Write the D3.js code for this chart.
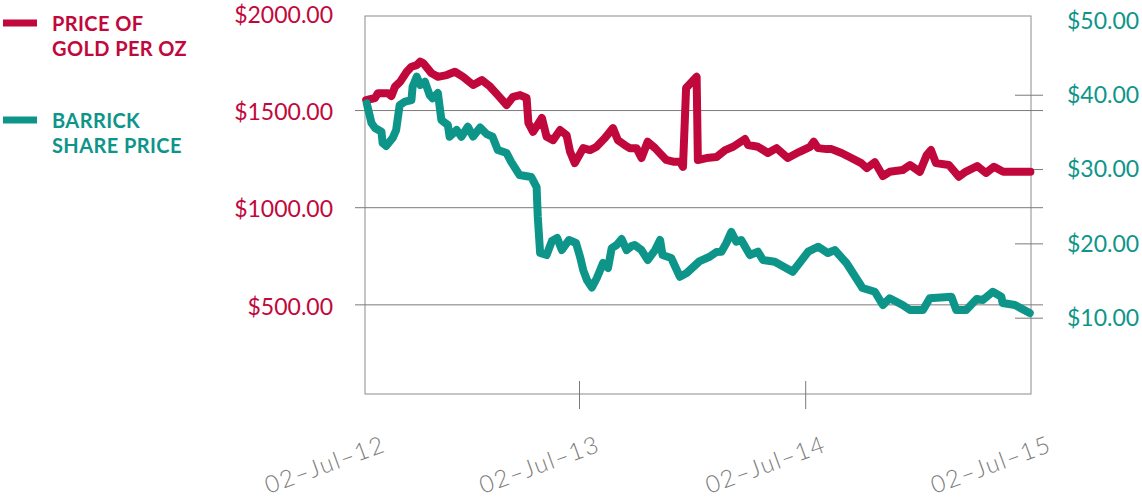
<!DOCTYPE html>
<html>
<head>
<meta charset="utf-8">
<script src="https://cdn.jsdelivr.net/npm/d3@7"></script>
<style>
  body { margin: 0; background: #fff; }
  svg { display: block; font-family: Lato, "Noto Sans", sans-serif; }
</style>
</head>
<body>
<svg id="chart" width="1142" height="502"></svg>
<script>
// gold price per oz (USD)
var goldDates = [
    '2012-07-04','2012-07-19','2012-07-24','2012-08-10','2012-08-16','2012-08-22','2012-08-31',
    '2012-09-11','2012-09-19','2012-09-28','2012-10-04','2012-10-09','2012-10-23','2012-11-03',
    '2012-11-18','2012-12-02','2012-12-16','2013-01-02','2013-01-17','2013-01-31','2013-02-13',
    '2013-02-28','2013-03-11','2013-03-23','2013-04-03','2013-04-06','2013-04-14','2013-04-29',
    '2013-05-07','2013-05-18','2013-05-30','2013-06-10','2013-06-16','2013-06-24','2013-07-08',
    '2013-07-19','2013-07-29','2013-08-12','2013-08-25','2013-09-02','2013-09-13','2013-09-21',
    '2013-10-02','2013-10-10','2013-10-20','2013-11-01','2013-11-19','2013-11-30','2013-12-11',
    '2013-12-16','2013-12-21','2014-01-07','2014-01-09','2014-01-23','2014-02-08','2014-02-22',
    '2014-03-07','2014-03-26','2014-03-31','2014-04-16','2014-05-02','2014-05-16','2014-06-03',
    '2014-06-22','2014-07-09','2014-07-15','2014-07-22','2014-08-05','2014-08-13','2014-08-29',
    '2014-09-14','2014-09-30','2014-10-09','2014-10-22','2014-11-04','2014-11-15','2014-12-06',
    '2014-12-18','2015-01-03','2015-01-14','2015-01-21','2015-01-29','2015-02-19','2015-03-07',
    '2015-03-18','2015-04-06','2015-04-20','2015-05-03','2015-05-18','2015-07-01'
];
var goldPrices = [
    1551,1562,1587,1587,1572,1620,1646,
    1697,1723,1731,1749,1742,1690,1671,
    1680,1697,1671,1629,1654,1620,1577,
    1526,1568,1577,1562,1434,1388,1459,
    1363,1345,1397,1371,1285,1227,1304,
    1294,1310,1356,1407,1345,1320,1304,
    1304,1253,1337,1304,1243,1234,1234,
    1208,1613,1671,1243,1253,1258,1294,
    1311,1351,1320,1311,1279,1304,1253,
    1285,1311,1337,1304,1299,1299,1279,
    1253,1227,1201,1232,1160,1182,1191,
    1217,1182,1268,1294,1227,1217,1157,
    1182,1212,1176,1208,1182,1182
];

// barrick share price (USD)
var barrickDates = [
    '2012-07-05','2012-07-13','2012-07-19','2012-07-30','2012-08-01','2012-08-07','2012-08-18',
    '2012-08-24','2012-08-30','2012-09-08','2012-09-19','2012-09-21','2012-09-28','2012-10-04',
    '2012-10-12','2012-10-20','2012-10-25','2012-11-03','2012-11-09','2012-11-20','2012-11-23',
    '2012-12-05','2012-12-13','2012-12-24','2013-01-02','2013-01-14','2013-01-25','2013-02-04',
    '2013-02-13','2013-02-28','2013-03-08','2013-03-22','2013-04-11','2013-04-20','2013-04-22',
    '2013-04-26','2013-05-07','2013-05-16','2013-05-25','2013-06-02','2013-06-14','2013-06-26',
    '2013-07-03','2013-07-08','2013-07-14','2013-07-22','2013-07-30','2013-08-09','2013-08-17',
    '2013-08-23','2013-08-31','2013-09-08','2013-09-16','2013-09-24','2013-09-29','2013-10-10',
    '2013-10-20','2013-11-01','2013-11-09','2013-11-13','2013-11-27','2013-12-11','2013-12-22',
    '2014-01-12','2014-01-28','2014-02-08','2014-02-16','2014-02-24','2014-03-04','2014-03-12',
    '2014-03-20','2014-04-03','2014-04-16','2014-04-24','2014-05-13','2014-06-11','2014-07-06',
    '2014-07-22','2014-08-07','2014-08-18','2014-09-06','2014-10-02','2014-10-22','2014-11-04',
    '2014-11-15','2014-12-06','2014-12-18','2015-01-08','2015-01-19','2015-02-23','2015-03-03',
    '2015-03-19','2015-04-05','2015-04-15','2015-05-01','2015-05-15','2015-05-17','2015-06-06',
    '2015-06-30'
];
var barrickPrices = [
    38.84,36.19,35.52,35.02,33.50,33.10,34.17,
    35.25,38.61,39.06,39.28,41.07,42.42,41.30,
    41.75,39.96,39.51,40.23,36.59,35.92,34.35,
    35.25,34.35,35.69,34.37,35.58,34.71,34.35,
    32.56,32.15,30.94,29.19,28.92,27.58,23.58,
    18.70,18.43,20.31,20.72,19.10,20.45,20.05,
    18.16,16.41,15.07,14.06,15.34,17.36,16.68,
    19.37,19.78,20.58,19.10,19.64,19.78,19.10,
    17.76,19.10,20.45,18.43,18.03,15.51,16.01,
    17.62,18.20,18.83,18.88,20.05,21.53,20.22,
    20.45,18.43,18.88,17.76,17.53,16.18,18.88,
    19.55,18.70,19.10,17.36,13.99,13.49,11.70,
    12.61,11.70,11.03,11.03,12.61,12.82,11.03,
    11.03,12.51,12.38,13.49,12.82,11.97,11.70,
    10.63
];

var goldTicks = [500, 1000, 1500, 2000];
var barrickTicks = [10, 20, 30, 40, 50];
var dateTicks = ['2012-07-02', '2013-07-02', '2014-07-02', '2015-07-02'];

var GOLD = '#c1083c',
    TEAL = '#0e958a',
    GRID = '#7a7a7a';

var box = {left: 365, right: 1031, top: 16, bottom: 394};

var parse = d3.timeParse('%Y-%m-%d');
var fmtDate = d3.timeFormat('%d\u2013%b\u2013%y');
var fmtMoney = function (d) { return '$' + d3.format('.2f')(d); };

var svg = d3.select('#chart');

var xScale = d3.scaleTime()
    .domain(dateTicks.map(parse))
    .range([box.left, 579.5, 805.7, box.right]);
var yGold = d3.scaleLinear().domain([0, 2000]).range([401.5, 12.9]);
var yBarrick = d3.scaleLinear().domain([0, 50]).range([392, 20.4]);

// plot frame
svg.append('rect')
    .attr('x', box.left).attr('y', box.top)
    .attr('width', box.right - box.left).attr('height', box.bottom - box.top)
    .attr('fill', 'none').attr('stroke', '#8c8c8c').attr('stroke-width', 1);

// left axis with gridlines
var goldAxis = d3.axisLeft(yGold)
    .tickValues(goldTicks)
    .tickSize(-(1043 - 355))
    .tickPadding(22)
    .tickFormat(fmtMoney);
var gAxis = svg.append('g')
    .attr('transform', 'translate(355,0)')
    .call(goldAxis);
gAxis.select('.domain').remove();
gAxis.selectAll('.tick line')
    .attr('stroke', GRID)
    .attr('opacity', function (d) { return d === 2000 ? 0 : 1; });
gAxis.selectAll('.tick text')
    .attr('fill', GOLD)
    .attr('font-size', 23)
    .attr('font-family', 'Lato, "Noto Sans", sans-serif')
    .attr('dy', '0.42em');

// right axis
var barrickAxis = d3.axisRight(yBarrick)
    .tickValues(barrickTicks)
    .tickSize(28)
    .tickPadding(24)
    .tickFormat(fmtMoney);
var bAxis = svg.append('g')
    .attr('transform', 'translate(1015,0)')
    .call(barrickAxis);
bAxis.select('.domain').remove();
bAxis.selectAll('.tick line')
    .attr('stroke', GRID)
    .attr('opacity', function (d) { return d === 50 ? 0 : 1; });
bAxis.selectAll('.tick text')
    .attr('fill', TEAL)
    .attr('font-size', 23)
    .attr('font-family', 'Lato, "Noto Sans", sans-serif')
    .attr('dy', '0.34em');

// bottom ticks crossing the frame
var inner = dateTicks.slice(1, 3).map(parse);
svg.append('g').selectAll('line')
    .data(inner)
    .enter().append('line')
    .attr('x1', function (d) { return xScale(d); })
    .attr('x2', function (d) { return xScale(d); })
    .attr('y1', box.bottom - 13)
    .attr('y2', box.bottom + 15)
    .attr('stroke', GRID);

// rotated date labels
svg.append('g').selectAll('text')
    .data(dateTicks.map(parse))
    .enter().append('text')
    .attr('transform', function (d) {
        return 'translate(' + (xScale(d) + 22) + ',451) rotate(-20)';
    })
    .attr('text-anchor', 'end')
    .attr('font-size', 24)
    .attr('font-weight', 300)
    .attr('letter-spacing', 1.6)
    .attr('fill', '#7c7c7c')
    .text(fmtDate);

// series
function series(dates, values, y) {
    return dates.map(function (d, i) { return {date: parse(d), value: values[i], y: y}; });
}
var line = d3.line()
    .x(function (d) { return xScale(d.date); })
    .y(function (d) { return d.y(d.value); });

svg.append('path')
    .datum(series(goldDates, goldPrices, yGold))
    .attr('d', line)
    .attr('fill', 'none')
    .attr('stroke', GOLD)
    .attr('stroke-width', 8)
    .attr('stroke-linejoin', 'round')
    .attr('stroke-linecap', 'round');

svg.append('path')
    .datum(series(barrickDates, barrickPrices, yBarrick))
    .attr('d', line)
    .attr('fill', 'none')
    .attr('stroke', TEAL)
    .attr('stroke-width', 8)
    .attr('stroke-linejoin', 'round')
    .attr('stroke-linecap', 'round');

// legend
var legend = [
    {color: GOLD, lines: ['PRICE OF', 'GOLD PER OZ'], y: 23},
    {color: TEAL, lines: ['BARRICK', 'SHARE PRICE'], y: 120}
];
var items = svg.append('g').selectAll('g')
    .data(legend)
    .enter().append('g')
    .attr('transform', function (d) { return 'translate(0,' + d.y + ')'; });
items.append('line')
    .attr('x1', 3).attr('x2', 37)
    .attr('stroke', function (d) { return d.color; })
    .attr('stroke-width', 7);
items.append('text')
    .attr('fill', function (d) { return d.color; })
    .attr('font-size', 20)
    .attr('font-weight', 700)
    .attr('letter-spacing', 0.4)
    .selectAll('tspan')
    .data(function (d) { return d.lines; })
    .enter().append('tspan')
    .attr('x', 52)
    .attr('y', function (d, i) { return 8 + i * 25; })
    .text(function (d) { return d; });
</script>
</body>
</html>
